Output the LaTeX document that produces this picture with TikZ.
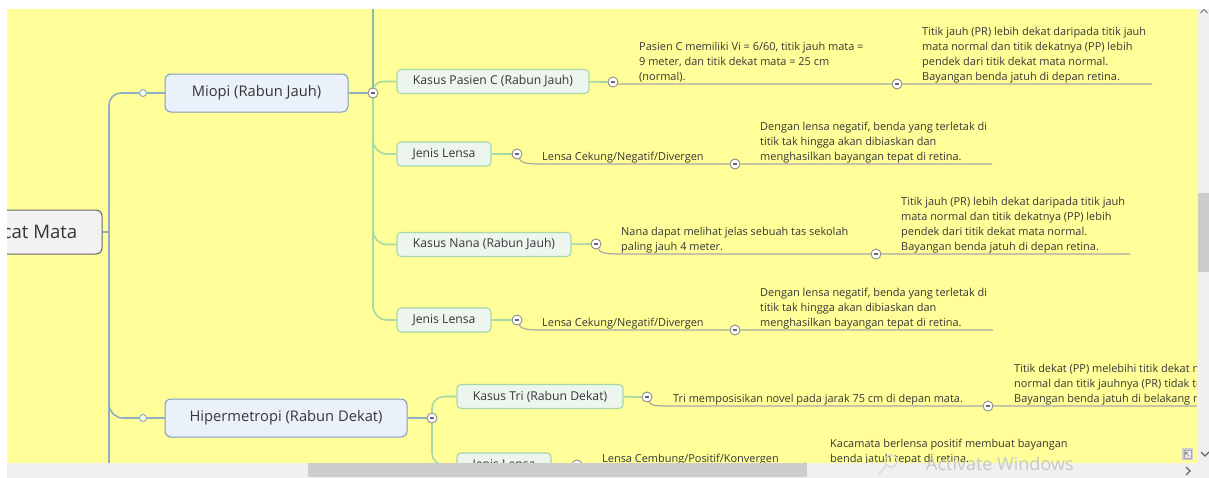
\documentclass[tikz,border=0pt]{standalone}
\usepackage{fontspec}
\setmainfont{Open Sans}
\usetikzlibrary{calc}
\definecolor{yel}{HTML}{FFFE99}
\definecolor{topicfill}{HTML}{EAF1FB}
\definecolor{topicdraw}{HTML}{7C9DC4}
\definecolor{trunkc}{HTML}{8FAFC2}
\definecolor{childfill}{HTML}{EDF5EF}
\definecolor{childdraw}{HTML}{A6D9A6}
\definecolor{vteal}{HTML}{86BBA6}
\definecolor{leafc}{HTML}{A8A8A8}
\definecolor{txt}{HTML}{363636}
\definecolor{sbar}{HTML}{F0F0F0}
\definecolor{sthumb}{HTML}{CDCDCD}
\pgfdeclarelayer{bg}\pgfdeclarelayer{front}
\pgfsetlayers{bg,main,front}
\begin{document}
\begin{tikzpicture}[x=1pt,y=-1pt,
  rootbox/.style={draw=black!60,fill=black!5,rounded corners=6,line width=1pt,
    minimum width=146,minimum height=44,font=\fontsize{18.6}{22}\selectfont,text=txt},
  topicbox/.style={draw=topicdraw,fill=topicfill,rounded corners=6,line width=1pt,
    minimum height=38,font=\fontsize{14.7}{17}\selectfont,text=txt},
  childbox/.style={draw=childdraw,fill=childfill,rounded corners=4,line width=1.1pt,
    minimum height=24,font=\fontsize{12.2}{14}\selectfont,text=txt},
  leaftext/.style={anchor=south west,inner sep=0pt,align=left,
    font=\fontsize{10.95}{15}\selectfont,text=txt},
  hollow/.style={circle,draw=trunkc,fill=white,line width=1pt,minimum size=7,inner sep=0pt},
  collbtn/.style={circle,draw=black!45,fill=white,line width=0.9pt,minimum size=10,inner sep=0pt,
    path picture={\draw[black!60,line width=1.3pt]
      ([xshift=-2.4pt]path picture bounding box.center) -- ([xshift=2.4pt]path picture bounding box.center);}},
  trunk/.style={draw=trunkc,line width=1.6pt},
  childline/.style={draw=childdraw,line width=1.6pt},
  vline/.style={draw=vteal,line width=1.3pt},
  leafline/.style={draw=leafc,line width=1.2pt},
]
\useasboundingbox (0,0) rectangle (1209,477);
\begin{pgfonlayer}{bg}
  \fill[yel] (7,9) rectangle (1197,463);
\end{pgfonlayer}

% main nodes
\node[rootbox] (root) at (29,232) {Cacat Mata};
\node[topicbox,minimum width=183] (miopi) at (256.5,93) {Miopi (Rabun Jauh)};
\node[topicbox,minimum width=242] (hiper) at (286,418) {Hipermetropi (Rabun Dekat)};
\node[hollow] (dotM) at (143,93) {};
\node[hollow] (dotH) at (143,418) {};
\node[collbtn] (cM) at (373,93) {};
\node[collbtn] (cH) at (432,418) {};
\coordinate (trbot) at (109,475);
\coordinate (trmid) at (109,380);
\coordinate (vtop) at (373,0);

% children
\node[childbox,minimum width=192] (kpc) at (493,81.5) {Kasus Pasien C (Rabun Jauh)};
\node[childbox,minimum width=94] (jl1) at (444,154) {Jenis Lensa};
\node[childbox,minimum width=174] (kn) at (484,244.5) {Kasus Nana (Rabun Jauh)};
\node[childbox,minimum width=94] (jl2) at (444,320) {Jenis Lensa};
\node[childbox,minimum width=166] (kt) at (540,396.5) {Kasus Tri (Rabun Dekat)};
\node[childbox,minimum width=94] (jl3) at (504,465) {Jenis Lensa};

% leaf buttons
\node[collbtn] (c1a) at (613,82) {};
\node[collbtn] (c1b) at (897,84) {};
\node[collbtn] (c2a) at (517,154) {};
\node[collbtn] (c2b) at (735,164) {};
\node[collbtn] (c3a) at (596,244) {};
\node[collbtn] (c3b) at (876,254) {};
\node[collbtn] (c4a) at (517,320) {};
\node[collbtn] (c4b) at (735,330) {};
\node[collbtn] (c5a) at (647,397) {};
\node[collbtn] (c5b) at (988,406) {};
\node[collbtn] (c6a) at (577,465) {};
\node[collbtn] (c6b) at (805,468) {};
\coordinate (b1) at (630,84);
\coordinate (b2) at (540,164);
\coordinate (b3) at (618,254);
\coordinate (b4) at (540,330);
\coordinate (b5) at (670,406);
\coordinate (b6) at (600,468);
\coordinate (e1) at (1152,84);
\coordinate (e2) at (992,164);
\coordinate (e3) at (1130,254);
\coordinate (e4) at (993,330);
\coordinate (e5) at (1215,406);
\coordinate (e6) at (1060,468);

% leaf texts
\node[leaftext] (l1a) at (639,85) {Pasien C memiliki Vi = 6/60, titik jauh mata =\\9 meter, dan titik dekat mata = 25 cm\\(normal).\strut};
\node[leaftext] (l1b) at (922,85) {Titik jauh (PR) lebih dekat daripada titik jauh\\mata normal dan titik dekatnya (PP) lebih\\pendek dari titik dekat mata normal.\\Bayangan benda jatuh di depan retina.\strut};
\node[leaftext] (l2a) at (542,165) {Lensa Cekung/Negatif/Divergen\strut};
\node[leaftext] (l2b) at (760,165) {Dengan lensa negatif, benda yang terletak di\\titik tak hingga akan dibiaskan dan\\menghasilkan bayangan tepat di retina.\strut};
\node[leaftext] (l3a) at (621,255) {Nana dapat melihat jelas sebuah tas sekolah\\paling jauh 4 meter.\strut};
\node[leaftext] (l3b) at (901,255) {Titik jauh (PR) lebih dekat daripada titik jauh\\mata normal dan titik dekatnya (PP) lebih\\pendek dari titik dekat mata normal.\\Bayangan benda jatuh di depan retina.\strut};
\node[leaftext] (l4a) at (542,331) {Lensa Cekung/Negatif/Divergen\strut};
\node[leaftext] (l4b) at (760,331) {Dengan lensa negatif, benda yang terletak di\\titik tak hingga akan dibiaskan dan\\menghasilkan bayangan tepat di retina.\strut};
\node[leaftext] (l5a) at (673,407) {Tri memposisikan novel pada jarak 75 cm di depan mata.\strut};
\node[leaftext] (l5b) at (1014,407) {Titik dekat (PP) melebihi titik dekat mata\\normal dan titik jauhnya (PR) tidak terhingga.\\Bayangan benda jatuh di belakang retina.\strut};
\node[leaftext] (l6a) at (602,467) {Lensa Cembung/Positif/Konvergen\strut};
\node[leaftext] (l6b) at (830,467) {Kacamata berlensa positif membuat bayangan\\benda jatuh tepat di retina.\strut};

\begin{pgfonlayer}{bg}
  % trunk
  \draw[trunk] (root.east) -- (root.east -| trbot);
  \draw[trunk,rounded corners=12] (dotM) -| (trbot);
  \draw[trunk,rounded corners=14] (trmid) |- (dotH);
  \draw[trunk] (dotM) -- (miopi);
  \draw[trunk] (dotH) -- (hiper);
  \draw[trunk] (miopi) -- (cM);
  \draw[trunk] (hiper) -- (cH);
  % verticals
  \draw[vline] (cM) -- (vtop);
  \draw[childline,rounded corners=10] (cM) |- (kpc);
  \draw[childline,rounded corners=14] (cM) |- (jl1);
  \draw[childline,rounded corners=14] (cM) |- (kn);
  \draw[childline,rounded corners=14] (cM) |- (jl2);
  \draw[childline,rounded corners=12] (cH) |- (kt);
  \draw[childline,rounded corners=12] (cH) |- (jl3);
  % box to first button
  \draw[childline] (kpc) -- (c1a);
  \draw[childline] (jl1) -- (c2a);
  \draw[childline] (kn) -- (c3a);
  \draw[childline] (jl2) -- (c4a);
  \draw[childline] (kt) -- (c5a);
  \draw[childline] (jl3) -- (c6a);
  % leaf lines
  \draw[leafline] (c1a) .. controls +(4,2) and +(-6,0) .. (b1) -- (c1b) -- (e1);
  \draw[leafline] (c2a) .. controls +(4,9) and +(-12,0) .. (b2) -- (c2b) -- (e2);
  \draw[leafline] (c3a) .. controls +(4,9) and +(-12,0) .. (b3) -- (c3b) -- (e3);
  \draw[leafline] (c4a) .. controls +(4,9) and +(-12,0) .. (b4) -- (c4b) -- (e4);
  \draw[leafline] (c5a) .. controls +(4,9) and +(-12,0) .. (b5) -- (c5b) -- (e5);
  \draw[leafline] (c6a) .. controls +(4,3) and +(-8,0) .. (b6) -- (c6b) -- (e6);
\end{pgfonlayer}

\begin{pgfonlayer}{front}
  % window frame
  \fill[white] (-200,-10) rectangle (1220,9);
  \fill[white] (-200,-10) rectangle (7,490);
  \fill[sbar] (1197,9) rectangle (1220,490);
  \fill[sbar] (7,463) rectangle (1220,490);
  \fill[sthumb] (1198,193) rectangle (1209,272);
  \fill[sthumb] (308,463) rectangle (807,477);
  \draw[black!55,line width=1pt] (1200.5,13) -- (1204,9.5) -- (1207.5,13);
  \draw[black!60,line width=1.2pt] (1201,452) -- (1205,456) -- (1209,452);
  \draw[black!60,line width=1.2pt] (1186,467) -- (1190,471) -- (1186,475);
  \fill[sthumb] (1182,448) rectangle (1193,460);
  \draw[black!35,fill=black!8] (1184,450) rectangle (1191,458);
  \draw[black!45,line width=0.6pt] (1189.5,456.5) -- (1185.5,452.5) (1185.5,455) -- (1185.5,452.5) -- (1188,452.5);
  \node[anchor=west,inner sep=0pt,text=black!22,font=\fontsize{18}{22}\selectfont] (aw) at (926,464) {Activate Windows};
  \draw[black!15,line width=1.3pt] (891,461) circle (6);
  \draw[black!15,line width=1.3pt] (886,466) -- (879,474);
\end{pgfonlayer}
\end{tikzpicture}
\end{document}
